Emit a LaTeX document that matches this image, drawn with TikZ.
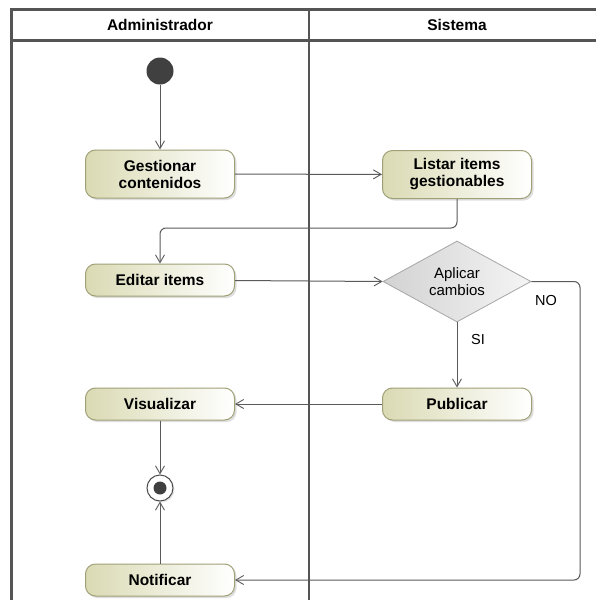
\documentclass[tikz,border=0pt]{standalone}
\usepackage{fontspec}
\setmainfont{Liberation Sans}
\usetikzlibrary{arrows.meta,shapes.geometric,shadows}
\definecolor{frameC}{HTML}{555555}
\definecolor{lineC}{HTML}{5A5A5A}
\definecolor{boxL}{HTML}{DADAB4}
\definecolor{boxB}{HTML}{A0A078}
\tikzset{
  frameline/.style={draw=frameC,line width=2.6pt},
  act/.style={draw=boxB,line width=1pt,rounded corners=10pt,minimum width=149pt,
    left color=boxL,right color=white,align=center,
    font=\fontsize{15.5}{17}\selectfont\bfseries,
    drop shadow={shadow xshift=2pt,shadow yshift=-2pt,fill=black!25},inner sep=2pt},
  dec/.style={diamond,draw=gray!70,line width=0.8pt,left color=gray!35,right color=gray!8,
    minimum width=148pt,minimum height=81pt,inner sep=0pt,align=center,aspect=1.83,
    font=\fontsize{15}{17}\selectfont},
  flow/.style={draw=lineC,line width=1pt,rounded corners=6pt,
    -{Straight Barb[angle=60:9pt,line width=0.9pt]}},
  lbl/.style={font=\fontsize{14.5}{16}\selectfont},
  hdr/.style={font=\fontsize{15.5}{17}\selectfont\bfseries}
}
\begin{document}
\begin{tikzpicture}[x=1pt,y=-1pt]
\useasboundingbox (0,0) rectangle (595,600);
\fill[white] (0,0) rectangle (595,600);
% frame
\draw[frameline] (11.5,601) -- (11.5,9.5) -- (596,9.5);
\draw[frameline] (11.5,40.5) -- (596,40.5);
\draw[frameline] (309,9.5) -- (309,601);
\node[hdr] (h1) at (160,24.5) {Administrador};
\node[hdr] (h2) at (457,24.5) {Sistema};
% nodes
\node[circle,fill=black!75,minimum size=27pt,inner sep=0pt] (init) at (160,71) {};
\node[act,minimum height=48pt] (gest) at (160,174) {Gestionar\\contenidos};
\node[act,minimum height=48pt] (list) at (457,174.5) {Listar items\\gestionables};
\node[act,minimum height=32pt] (edit) at (160,280) {Editar items};
\node[dec] (dec) at (457,281.5) {Aplicar\\cambios};
\node[act,minimum height=32pt] (pub) at (457,404) {Publicar};
\node[act,minimum height=32pt] (vis) at (160,404) {Visualizar};
\node[act,minimum height=32pt] (noti) at (160,580) {Notificar};
\node[circle,draw=black!70,line width=1pt,fill=white,minimum size=26pt,inner sep=0pt,
  drop shadow={shadow xshift=1.5pt,shadow yshift=-1.5pt,fill=black!20}] (fin) at (160,488) {};
\fill[black!75] (fin.center) circle (6.5pt);
\coordinate (c1) at (457,228);
\coordinate (c2) at (160,228);
\coordinate (c3) at (580,281.5);
\coordinate (c4) at (580,580);
% edges
\draw[flow] (init) -- (gest);
\draw[flow] (gest) -- (list);
\draw[flow] (list.south) -- (c1) -- (c2) -- (edit.north);
\draw[flow] (edit) -- (dec.west);
\draw[flow] (dec.east) -- (c3) -- (c4) -- (noti.east);
\draw[flow] (dec.south) -- (pub.north);
\draw[flow] (pub) -- (vis);
\draw[flow] (vis) -- (fin);
\draw[flow] (noti) -- (fin);
\node[lbl] (no) at (546,301) {NO};
\node[lbl] (si) at (478,340) {SI};
\end{tikzpicture}
\end{document}
